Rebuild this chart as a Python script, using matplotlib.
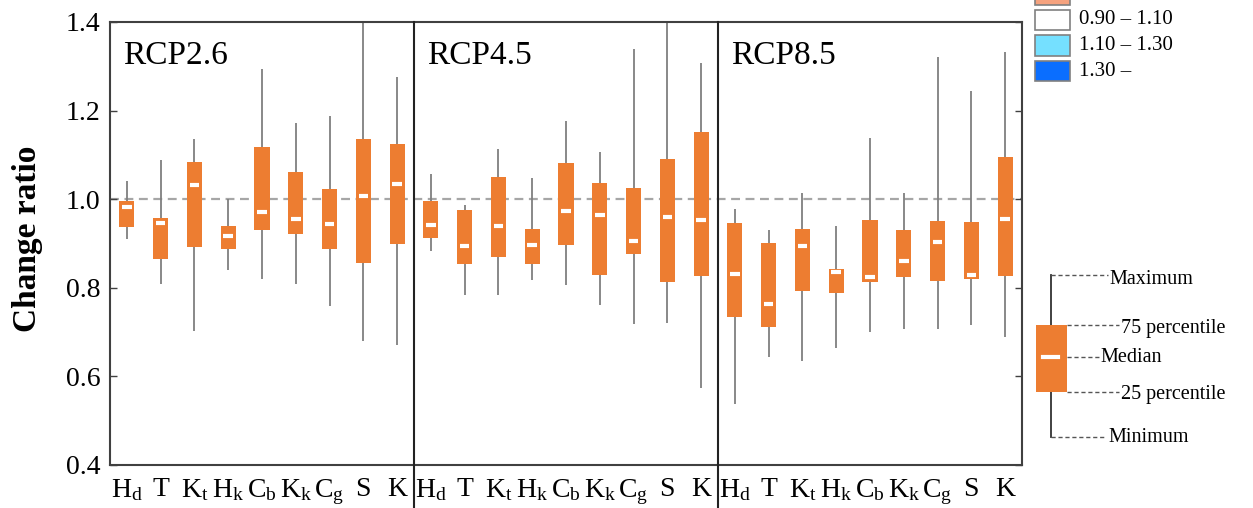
import matplotlib.pyplot as plt
from matplotlib.patches import Rectangle

plt.rcParams["font.family"] = ["Liberation Serif", "DejaVu Serif"]
plt.rcParams["mathtext.fontset"] = "custom"
plt.rcParams["mathtext.rm"] = "Liberation Serif"
plt.rcParams["mathtext.it"] = "Liberation Serif:italic"

# ---- data ----
variables = [r"H$_\mathregular{d}$", "T", r"K$_\mathregular{t}$", r"H$_\mathregular{k}$",
             r"C$_\mathregular{b}$", r"K$_\mathregular{k}$", r"C$_\mathregular{g}$", "S", "K"]
scenarios = ["RCP2.6", "RCP4.5", "RCP8.5"]

minimum = [
    [0.911, 0.809, 0.703, 0.840, 0.819, 0.808, 0.759, 0.681, 0.672],
    [0.884, 0.784, 0.784, 0.818, 0.807, 0.761, 0.718, 0.721, 0.574],
    [0.537, 0.643, 0.635, 0.663, 0.700, 0.707, 0.706, 0.716, 0.689],
]
q25 = [
    [0.938, 0.864, 0.891, 0.887, 0.931, 0.921, 0.888, 0.856, 0.898],
    [0.913, 0.854, 0.869, 0.854, 0.897, 0.829, 0.876, 0.812, 0.827],
    [0.733, 0.711, 0.792, 0.788, 0.814, 0.824, 0.816, 0.819, 0.826],
]
median = [
    [0.982, 0.946, 1.031, 0.918, 0.970, 0.955, 0.945, 1.007, 1.034],
    [0.941, 0.895, 0.939, 0.897, 0.974, 0.964, 0.906, 0.959, 0.953],
    [0.831, 0.764, 0.895, 0.835, 0.825, 0.861, 0.903, 0.829, 0.956],
]
q75 = [
    [0.996, 0.957, 1.083, 0.939, 1.117, 1.061, 1.022, 1.137, 1.125],
    [0.996, 0.976, 1.049, 0.933, 1.081, 1.037, 1.026, 1.090, 1.151],
    [0.946, 0.900, 0.933, 0.842, 0.953, 0.931, 0.951, 0.948, 1.096],
]
maximum = [
    [1.040, 1.089, 1.136, 1.000, 1.293, 1.171, 1.187, 1.480, 1.275],
    [1.058, 0.988, 1.113, 1.047, 1.177, 1.107, 1.338, 1.450, 1.307],
    [0.977, 0.930, 1.013, 0.939, 1.139, 1.013, 1.321, 1.245, 1.333],
]

bin_labels = ["0.70 \u2013 0.90", "0.90 \u2013 1.10", "1.10 \u2013 1.30", "1.30 \u2013"]
bin_colors = ["#F5A27E", "#FFFFFF", "#75E0FF", "#0A6EFF"]

ORANGE = "#ED7D31"
W, H = 1253, 508

fig = plt.figure(figsize=(W / 100, H / 100), dpi=100)
ax = fig.add_axes([110 / W, 43 / H, 912 / W, 443 / H])

n = len(variables)
for k, scen in enumerate(scenarios):
    xs = [k * n + i + 0.5 for i in range(n)]
    ax.vlines(xs, minimum[k], maximum[k], color="#7F7F7F", lw=1.3, zorder=2)
    heights = [b - a for a, b in zip(q25[k], q75[k])]
    ax.bar(xs, heights, bottom=q25[k], width=0.45, color=ORANGE, zorder=3)
    ax.hlines(median[k], [x - 0.14 for x in xs], [x + 0.14 for x in xs],
              color="white", lw=3, zorder=4)
    ax.text(k * n + 0.38, 1.305, scen, fontsize=24, va="baseline", zorder=5)

# reference line and panel dividers
ax.axhline(1.0, color="#A6A6A6", lw=1.6, ls=(0, (4, 2.5)), zorder=1)
for k in range(1, len(scenarios)):
    ax.axvline(k * n, ymin=-0.1, ymax=1, color="#222222", lw=1.5, clip_on=False, zorder=5)

ax.set_xlim(0, n * len(scenarios))
ax.set_ylim(0.4, 1.4)
ax.set_yticks([0.4, 0.6, 0.8, 1.0, 1.2, 1.4])
ax.set_yticklabels(["0.4", "0.6", "0.8", "1.0", "1.2", "1.4"])
ax.set_xticks([k * n + i + 0.5 for k in range(len(scenarios)) for i in range(n)])
ax.set_xticklabels(variables * len(scenarios))
ax.tick_params(axis="x", length=0, pad=9, labelsize=20)
ax.tick_params(axis="y", direction="in", length=5, width=1, pad=7, labelsize=20,
               right=True, color="#404040")
for sp in ax.spines.values():
    sp.set_color("#404040")
    sp.set_linewidth(1.5)

ax.set_ylabel("Change ratio", fontsize=24, fontweight="bold")
ax.yaxis.set_label_coords(-0.0735, 0.51)

# ---- overlay in pixel coords for the legends ----
lg = fig.add_axes([0, 0, 1, 1], zorder=10)
lg.set_xlim(0, W)
lg.set_ylim(H, 0)
lg.axis("off")

# colour-bin legend (top row cut off by the figure edge)
for i, (lab, col) in enumerate(zip(bin_labels, bin_colors)):
    top = -16 + i * 25.5
    lg.add_patch(Rectangle((1035, top), 35, 20.7, facecolor=col, edgecolor="#808080",
                           lw=1.2, clip_on=False))
    lg.text(1079, top + 10.5, lab, fontsize=15, va="center", ha="left")

# box explanation
lg.plot([1051, 1051], [275, 437], color="#333333", lw=1.3)
lg.add_patch(Rectangle((1036, 325), 31, 67, facecolor=ORANGE, edgecolor="none", zorder=3))
lg.plot([1043, 1058], [357, 357], color="white", lw=3, zorder=4)
guide = [
    (1051, 1108, 275, "Maximum", 1109, 280),
    (1067, 1119, 325, "75 percentile", 1121, 329),
    (1067, 1099, 357, "Median", 1100, 357),
    (1067, 1119, 392, "25 percentile", 1121, 395),
    (1051, 1106, 437, "Minimum", 1108, 438),
]
for x0, x1, yl, lab, xt, yt in guide:
    lg.plot([x0, x1], [yl, yl], color="#555555", lw=1, ls=(0, (3, 2)))
    lg.text(xt, yt, lab, fontsize=14.5, va="center", ha="left")

fig.savefig("out.png", dpi=100)
